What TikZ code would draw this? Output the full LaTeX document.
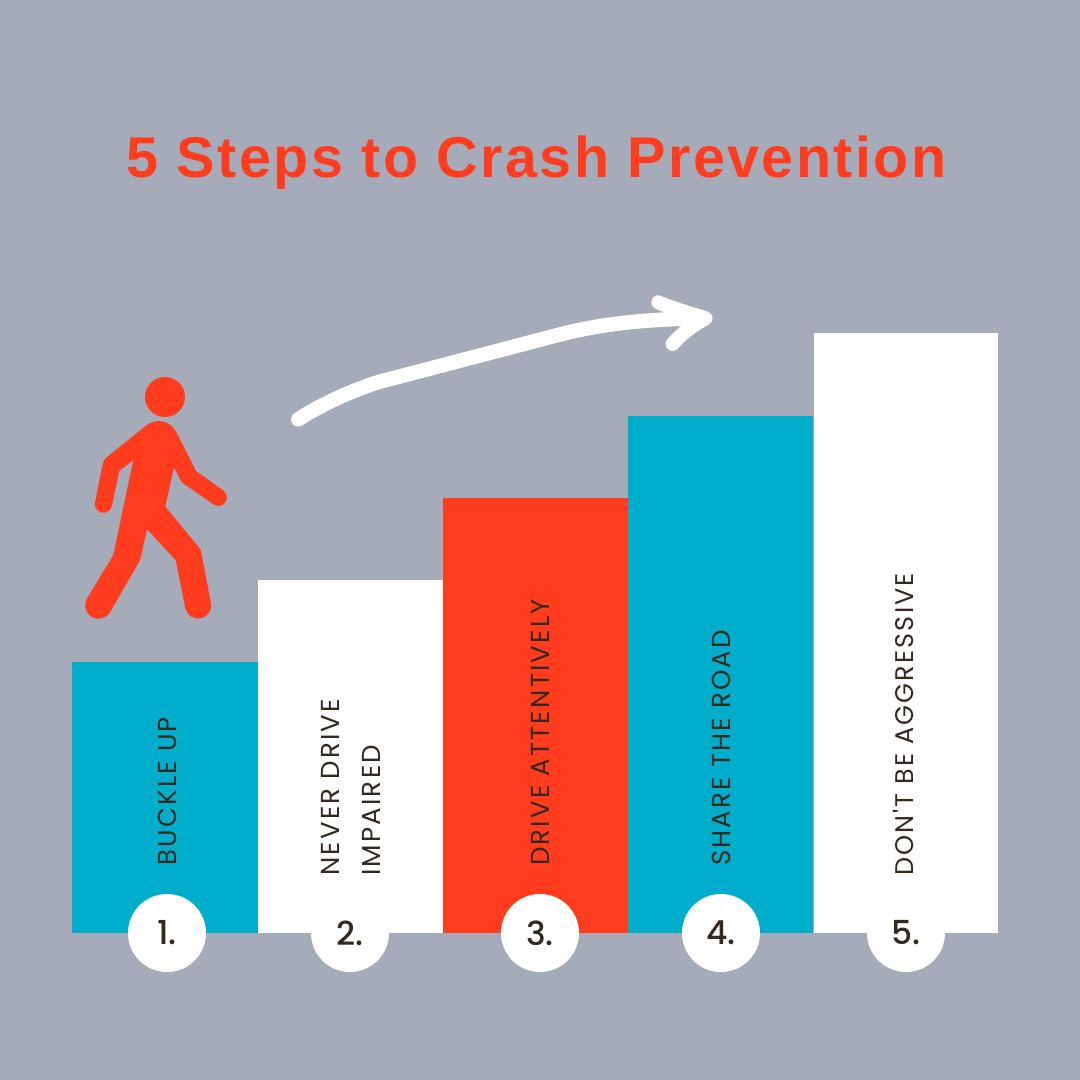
\documentclass[tikz,border=0pt]{standalone}
\usepackage{fontspec}
\setmainfont{Poppins}
\newfontfamily\titlefont[LetterSpace=4.2]{Liberation Sans Bold}
\newfontfamily\labelfont[LetterSpace=8.5]{Poppins}
\newfontfamily\numfont{Poppins Medium}
\definecolor{bgc}{HTML}{A5ABB8}
\definecolor{redc}{HTML}{FF3C1E}
\definecolor{bluec}{HTML}{00AECB}
\definecolor{inkc}{HTML}{33291F}
\tikzset{
  numdisc/.style={circle,fill=white,minimum size=78pt,inner sep=0pt,font=\numfont\fontsize{33}{33}\selectfont,text=inkc},
  barlabel/.style={rotate=90,anchor=west,font=\labelfont\fontsize{26}{31}\selectfont,text=inkc,inner sep=0pt,align=left},
}
\begin{document}
\begin{tikzpicture}[x=1pt,y=-1pt]
\fill[bgc] (0,0) rectangle (1080,1080);
\useasboundingbox (0,0) rectangle (1080,1080);
\node[text=redc,font=\titlefont\fontsize{57.5}{58}\selectfont,inner sep=0pt] (title) at (536.5,163) {5 Steps to Crash Prevention};
% bars
\fill[bluec] (72.2,662) rectangle (257.5,933);
\fill[white] (257.5,580) rectangle (442.5,933);
\fill[redc] (443,498) rectangle (627.5,933);
\fill[bluec] (628,416) rectangle (813,933);
\fill[white] (813.5,333) rectangle (998,933);
% discs
\node[numdisc] (n1) at (167,933) {1.};
\node[numdisc] (n2) at (350,933) {2.};
\node[numdisc] (n3) at (540,933) {3.};
\node[numdisc] (n4) at (721,933) {4.};
\node[numdisc] (n5) at (906,933) {5.};
% labels
\node[barlabel] (l1) at (167,866) {BUCKLE UP};
\node[barlabel,anchor=south west] (l2) at (340,876) {NEVER DRIVE};
\node[barlabel,anchor=south west] (l2b) at (381,876) {IMPAIRED};
\node[barlabel] (l3) at (540,866) {DRIVE ATTENTIVELY};
\node[barlabel] (l4) at (721,866) {SHARE THE ROAD};
\node[barlabel,font=\labelfont\fontsize{25.5}{31}\selectfont] (l5) at (903,876) {DON'T BE AGGRESSIVE};
% walker
\begin{scope}[shift={(60,360)},x=0.3333pt,y=-0.3333pt]
\fill[redc] (315,111) circle (60);
\fill[redc] (298,183) .. controls (320,183) and (340,198) .. (350,218)
 -- (408,333) -- (488,390) .. controls (500,399) and (505,415) .. (497,426) .. controls (488,438) and (475,442) .. (462,434)
 -- (372,372) .. controls (365,367) and (362,362) .. (360,357) -- (342,322) -- (316,440) -- (415,560) .. controls (420,566) and (423,572) .. (424,578)
 -- (453,730) .. controls (457,752) and (442,772) .. (420,775) .. controls (398,778) and (380,765) .. (376,745)
 -- (347,600) -- (261,508) -- (245,580) .. controls (243,592) and (241,598) .. (238,604)
 -- (150,757) .. controls (138,776) and (113,782) .. (95,771) .. controls (75,758) and (70,735) .. (82,714)
 -- (160,585) -- (220,300) -- (178,333) -- (156,437) .. controls (153,451) and (140,460) .. (126,458) .. controls (111,455) and (102,441) .. (105,427)
 -- (128,312) .. controls (130,303) and (134,297) .. (140,292)
 -- (258,197) .. controls (270,188) and (283,183) .. (298,183) -- cycle;
\end{scope}
% arrow
\begin{scope}[shift={(280,280)},x=0.3333pt,y=-0.3333pt]
\draw[white,line width=14.5pt,line cap=round,line join=round] (55,418)
  .. controls (120,375) and (230,325) .. (300,305)
  -- (800,174)
  .. controls (880,153) and (1000,118) .. (1272,115);
\draw[white,line width=14pt,line cap=round,line join=round] (1135,67) .. controls (1185,88) and (1230,100) .. (1277,115) .. controls (1240,135) and (1205,160) .. (1178,192);
\end{scope}
\end{tikzpicture}
\end{document}
